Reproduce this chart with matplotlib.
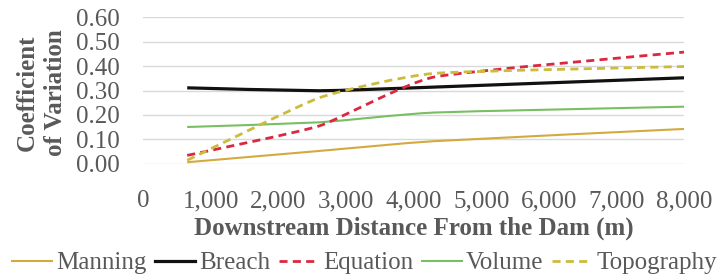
import numpy as np
import matplotlib
matplotlib.use("Agg")
import matplotlib.pyplot as plt
from matplotlib.path import Path
from matplotlib.patches import PathPatch
from matplotlib.lines import Line2D

# ---- data ----
distance = [650, 2600, 4300, 8000]
manning = [0.007, 0.053, 0.093, 0.143]
breach = [0.311, 0.299, 0.314, 0.352]
equation = [0.035, 0.155, 0.355, 0.457]
volume = [0.151, 0.17, 0.21, 0.234]
topography = [0.015, 0.27, 0.37, 0.398]
series_names = ["Manning", "Breach", "Equation", "Volume", "Topography"]
x_ticks = [0, 1000, 2000, 3000, 4000, 5000, 6000, 7000, 8000]
y_ticks = [0.0, 0.1, 0.2, 0.3, 0.4, 0.5, 0.6]

styles = {
    "Manning": dict(color="#D4A940", lw=1.5, ls="-"),
    "Breach": dict(color="#111111", lw=2.3, ls="-"),
    "Equation": dict(color="#D9283F", lw=2.0, ls=(0, (2.9, 1.9))),
    "Volume": dict(color="#79BE62", lw=1.5, ls="-"),
    "Topography": dict(color="#CDBB3A", lw=2.0, ls=(0, (2.9, 1.9))),
}

plt.rcParams['font.family'] = ['Liberation Serif', 'DejaVu Serif']
text_color = "#595959"
fs = 18

fig = plt.figure(figsize=(7.2, 2.76), dpi=100)
ax = fig.add_axes([0.199, 0.406, 0.751, 0.532])

TENSION = 0.08


def smooth_path(xs, ys):
    xs = np.asarray(xs, float)
    ys = np.asarray(ys, float)
    pts = np.column_stack([xs, ys])
    n = len(pts)
    verts = [pts[0]]
    codes = [Path.MOVETO]
    for i in range(n - 1):
        p0 = pts[i - 1] if i > 0 else pts[i]
        p1 = pts[i]
        p2 = pts[i + 1]
        p3 = pts[i + 2] if i + 2 < n else pts[i + 1]
        c1 = p1 + (p2 - p0) * TENSION
        c2 = p2 - (p3 - p1) * TENSION
        verts += [c1, c2, p2]
        codes += [Path.CURVE4] * 3
    return Path(verts, codes)


data = {
    "Manning": manning,
    "Breach": breach,
    "Equation": equation,
    "Volume": volume,
    "Topography": topography,
}

for name in ["Manning", "Volume", "Breach", "Equation", "Topography"]:
    st = styles[name]
    patch = PathPatch(smooth_path(distance, data[name]), facecolor="none",
                      edgecolor=st["color"], lw=st["lw"], linestyle=st["ls"],
                      capstyle="butt", joinstyle="round", zorder=3)
    ax.add_patch(patch)

ax.set_xlim(0, 8000)
ax.set_ylim(0, 0.6)
ax.set_xticks(x_ticks)
ax.set_xticklabels([f"{v:,}" for v in x_ticks])
ax.set_yticks(y_ticks)
ax.set_yticklabels([f"{v:.2f}" for v in y_ticks])
ax.grid(axis="y", color="#D9D9D9", lw=1.0)
ax.set_axisbelow(True)
for s in ax.spines.values():
    s.set_visible(False)
ax.tick_params(axis="both", length=0, labelsize=fs, colors=text_color)
ax.tick_params(axis="x", pad=19)
ax.tick_params(axis="y", pad=17)

ax.set_xlabel("Downstream Distance From the Dam (m)", fontsize=fs,
              fontweight="bold", color=text_color, labelpad=3)
fig.text(0.058, 0.663, "Coefficient\nof Variation", rotation=90, fontsize=fs,
         fontweight="bold", color=text_color, ha="center", va="center",
         linespacing=1.3)

handles = [Line2D([], [], color=styles[n]["color"], lw=styles[n]["lw"],
                  linestyle=styles[n]["ls"]) for n in series_names]
leg = fig.legend(handles, series_names, loc="center left", bbox_to_anchor=(0.017, 0.047),
                 ncol=5, frameon=False, fontsize=fs, handlelength=1.6,
                 handletextpad=0.15, columnspacing=0.36, borderaxespad=0, borderpad=0)
for t in leg.get_texts():
    t.set_color(text_color)

fig.savefig("out.png", dpi=100)
